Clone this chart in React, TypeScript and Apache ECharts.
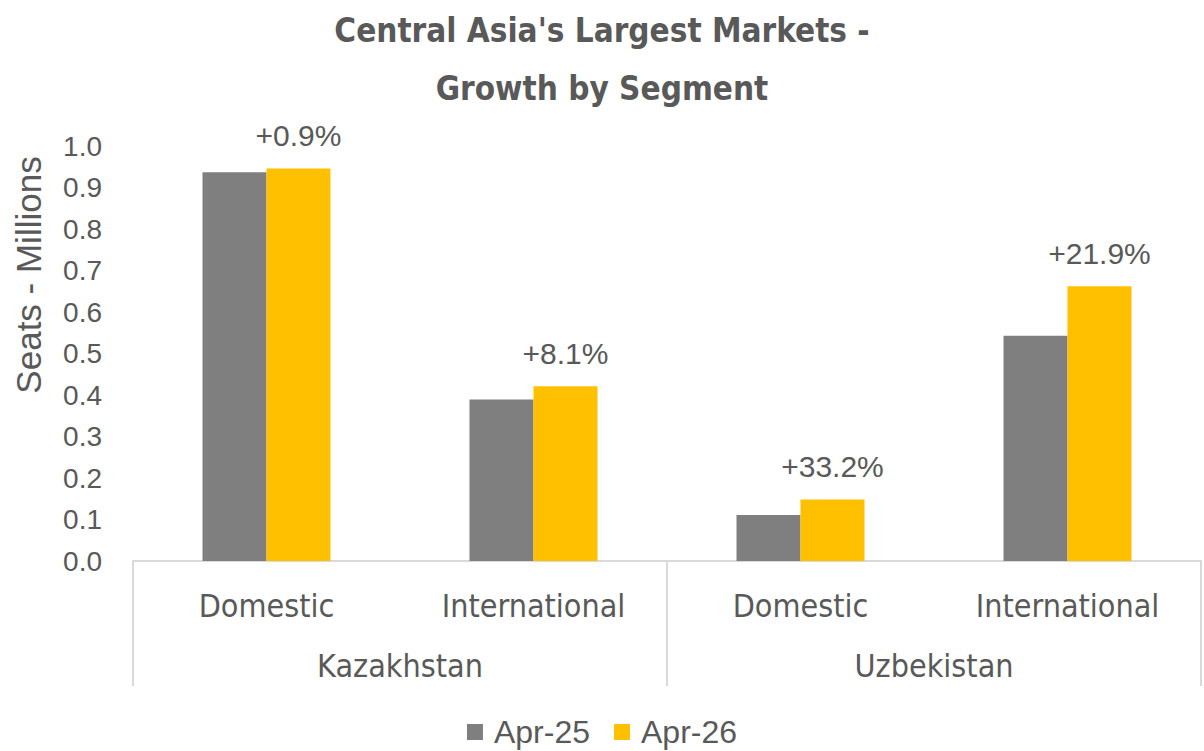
import React, { useEffect, useRef } from "react";
import * as echarts from "echarts";

const segments = ["Domestic", "International", "Domestic", "International"];
const countries = ["Kazakhstan", "Uzbekistan"];
const apr25 = [0.937, 0.389, 0.111, 0.543];
const apr26 = [0.946, 0.421, 0.148, 0.662];
const growthLabels = ["+0.9%", "+8.1%", "+33.2%", "+21.9%"];
const seriesNames = ["Apr-25", "Apr-26"];
const yTicks = [0, 1, 0.1];

const TEXT = "#595959";
const LINE = "#d9d9d9";
const BODY_FONT = "'Liberation Sans', Arial, sans-serif";
const NARROW_FONT = "'Liberation Sans Narrow', 'DejaVu Sans Condensed', 'Liberation Sans', sans-serif";
const TITLE_FONT = "'DejaVu Sans Condensed', 'Liberation Sans Narrow', 'Liberation Sans', sans-serif";

export default function App() {
  const ref = useRef<HTMLDivElement>(null);
  useEffect(() => {
    if (!ref.current) return;
    const chart = echarts.init(ref.current, undefined, { renderer: "svg" });
    chart.setOption({
      animation: false,
      backgroundColor: "#ffffff",
      title: {
        text: "Central Asia's Largest Markets -\nGrowth by Segment",
        left: "center",
        top: -4,
        textStyle: {
          fontFamily: TITLE_FONT,
          fontWeight: "bold",
          fontSize: 33,
          lineHeight: 58,
          color: TEXT,
        },
      },
      grid: { left: 133, right: 3, top: 146, bottom: 190, containLabel: false },
      legend: {
        data: seriesNames,
        bottom: -2,
        left: "center",
        icon: "rect",
        itemWidth: 16,
        itemHeight: 16,
        itemGap: 24,
        textStyle: {
          fontFamily: BODY_FONT,
          fontSize: 32,
          color: TEXT,
          padding: [0, 0, 0, 6],
        },
      },
      graphic: [
        {
          type: "text",
          x: 28,
          y: 275,
          rotation: Math.PI / 2,
          style: {
            text: "Seats - Millions",
            fontFamily: BODY_FONT,
            fontSize: 35,
            fill: TEXT,
            textAlign: "center",
            textVerticalAlign: "middle",
          },
        },
      ],
      xAxis: [
        {
          type: "category",
          data: segments,
          position: "bottom",
          axisLine: { show: true, lineStyle: { color: LINE, width: 2 } },
          axisTick: { show: false },
          axisLabel: {
            interval: 0,
            margin: 29,
            fontFamily: NARROW_FONT,
            fontSize: 32,
            color: TEXT,
          },
        },
        {
          type: "category",
          data: countries,
          position: "bottom",
          offset: 0,
          axisLine: { show: false },
          axisTick: { show: true, length: 125, lineStyle: { color: LINE, width: 2 } },
          axisLabel: {
            interval: 0,
            margin: 89,
            fontFamily: NARROW_FONT,
            fontSize: 32,
            color: TEXT,
          },
        },
      ],
      yAxis: {
        type: "value",
        min: yTicks[0],
        max: yTicks[1],
        interval: yTicks[2],
        axisLine: { show: false },
        axisTick: { show: false },
        splitLine: { show: false },
        axisLabel: {
          margin: 31,
          fontFamily: BODY_FONT,
          fontSize: 28,
          color: TEXT,
          formatter: (v: number) => v.toFixed(1),
        },
      },
      series: [
        {
          name: seriesNames[0],
          type: "bar",
          xAxisIndex: 0,
          data: apr25,
          barWidth: 64,
          barGap: "0%",
          itemStyle: { color: "#7f7f7f" },
        },
        {
          name: seriesNames[1],
          type: "bar",
          xAxisIndex: 0,
          data: apr26,
          barWidth: 64,
          barGap: "0%",
          itemStyle: { color: "#ffc000" },
          label: {
            show: true,
            position: "top",
            distance: 18,
            fontFamily: BODY_FONT,
            fontSize: 30,
            color: TEXT,
            formatter: (p: any) => growthLabels[p.dataIndex],
          },
        },
      ],
    });
    return () => chart.dispose();
  }, []);
  return (
    <div
      ref={ref}
      style={{ position: "fixed", left: 0, top: 0, width: 1204, height: 751 }}
    />
  );
}
